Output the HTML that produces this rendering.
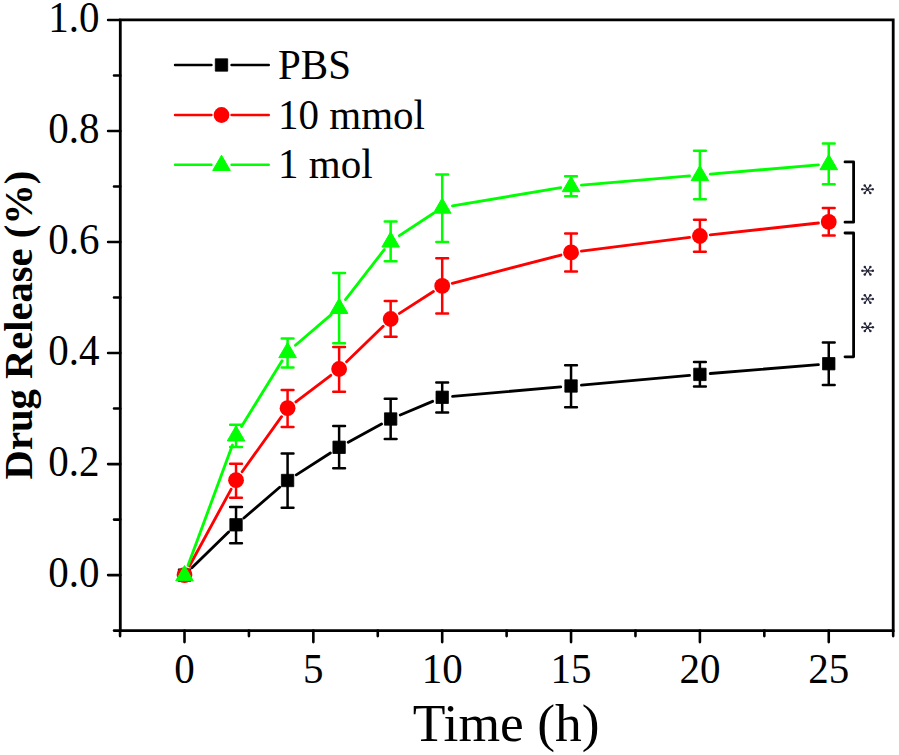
<!DOCTYPE html>
<html><head><meta charset="utf-8"><style>
html,body{margin:0;padding:0;background:#fff;}
svg{display:block;}
text{font-family:"Liberation Serif",serif;fill:#000;}
</style></head><body>
<svg width="899" height="755" viewBox="0 0 899 755">
<rect width="899" height="755" fill="#fff"/>
<path d="M120.3,630.6V19.9H893.2V630.6H120.3" stroke="#000" stroke-width="2.8" fill="none" stroke-linejoin="miter"/>
<path d="M108.1,575.10H120.3M108.1,464.08H120.3M108.1,353.06H120.3M108.1,242.04H120.3M108.1,131.02H120.3M108.1,20.00H120.3M114.0,630.61H120.3M114.0,519.59H120.3M114.0,408.57H120.3M114.0,297.55H120.3M114.0,186.53H120.3M114.0,75.51H120.3M184.50,630.6V642.1M313.35,630.6V642.1M442.20,630.6V642.1M571.05,630.6V642.1M699.90,630.6V642.1M828.75,630.6V642.1M120.08,630.6V636.1M248.93,630.6V636.1M377.77,630.6V636.1M506.62,630.6V636.1M635.47,630.6V636.1M764.33,630.6V636.1M893.17,630.6V636.1" stroke="#000" stroke-width="2.6" fill="none" stroke-linecap="round"/>
<text transform="translate(99.5,587.40) scale(1,1.07)" text-anchor="end" font-size="41">0.0</text>
<text transform="translate(99.5,476.38) scale(1,1.07)" text-anchor="end" font-size="41">0.2</text>
<text transform="translate(99.5,365.36) scale(1,1.07)" text-anchor="end" font-size="41">0.4</text>
<text transform="translate(99.5,254.34) scale(1,1.07)" text-anchor="end" font-size="41">0.6</text>
<text transform="translate(99.5,143.32) scale(1,1.07)" text-anchor="end" font-size="41">0.8</text>
<text transform="translate(99.5,32.30) scale(1,1.07)" text-anchor="end" font-size="41">1.0</text>
<text transform="translate(184.50,682.8) scale(1,1.05)" text-anchor="middle" font-size="41">0</text>
<text transform="translate(313.35,682.8) scale(1,1.05)" text-anchor="middle" font-size="41">5</text>
<text transform="translate(442.20,682.8) scale(1,1.05)" text-anchor="middle" font-size="41">10</text>
<text transform="translate(571.05,682.8) scale(1,1.05)" text-anchor="middle" font-size="41">15</text>
<text transform="translate(699.90,682.8) scale(1,1.05)" text-anchor="middle" font-size="41">20</text>
<text transform="translate(828.75,682.8) scale(1,1.05)" text-anchor="middle" font-size="41">25</text>
<text x="506.2" y="741" text-anchor="middle" font-size="53.5">Time (h)</text>
<text transform="translate(32.3,325) rotate(-90)" text-anchor="middle" font-size="40.6" font-weight="bold">Drug Release (%)</text>
<path d="M191.94,567.84L228.60,532.06M243.93,518.02L279.69,487.28M296.32,474.87L330.38,452.93M348.24,442.29L381.54,424.01M400.25,414.96L432.61,401.34M452.56,396.39L560.69,386.91M581.41,385.07L689.54,375.33M710.26,373.54L818.39,364.56" stroke="#000" stroke-width="2.85" fill="none" stroke-linecap="round"/>
<path d="M236.04,507.10V543.30M230.14,507.10H241.94M230.14,543.30H241.94M287.58,453.60V507.80M281.68,453.60H293.48M281.68,507.80H293.48M339.12,426.10V468.20M333.22,426.10H345.02M333.22,468.20H345.02M390.66,398.70V439.10M384.76,398.70H396.56M384.76,439.10H396.56M442.20,382.40V412.40M436.30,382.40H448.10M436.30,412.40H448.10M571.05,365.20V407.20M565.15,365.20H576.95M565.15,407.20H576.95M699.90,362.10V386.40M694.00,362.10H705.80M694.00,386.40H705.80M828.75,342.50V385.00M822.85,342.50H834.65M822.85,385.00H834.65" stroke="#000" stroke-width="2.5" fill="none" stroke-linecap="round"/>
<rect x="178.30" y="568.90" width="12.4" height="12.4" fill="#000" stroke="#000" stroke-width="0.8" stroke-linejoin="round"/>
<rect x="229.84" y="518.60" width="12.4" height="12.4" fill="#000" stroke="#000" stroke-width="0.8" stroke-linejoin="round"/>
<rect x="281.38" y="474.30" width="12.4" height="12.4" fill="#000" stroke="#000" stroke-width="0.8" stroke-linejoin="round"/>
<rect x="332.92" y="441.10" width="12.4" height="12.4" fill="#000" stroke="#000" stroke-width="0.8" stroke-linejoin="round"/>
<rect x="384.46" y="412.80" width="12.4" height="12.4" fill="#000" stroke="#000" stroke-width="0.8" stroke-linejoin="round"/>
<rect x="436.00" y="391.10" width="12.4" height="12.4" fill="#000" stroke="#000" stroke-width="0.8" stroke-linejoin="round"/>
<rect x="564.85" y="379.80" width="12.4" height="12.4" fill="#000" stroke="#000" stroke-width="0.8" stroke-linejoin="round"/>
<rect x="693.70" y="368.20" width="12.4" height="12.4" fill="#000" stroke="#000" stroke-width="0.8" stroke-linejoin="round"/>
<rect x="822.55" y="357.50" width="12.4" height="12.4" fill="#000" stroke="#000" stroke-width="0.8" stroke-linejoin="round"/>
<path d="M189.46,565.96L231.08,489.34M242.09,471.74L281.53,416.66M295.86,401.90L330.84,375.30M346.58,361.76L383.20,326.24M399.41,313.38L433.45,291.52M452.27,283.28L560.98,255.02M581.37,251.09L689.58,237.31M710.24,234.87L818.41,223.03" stroke="#f00" stroke-width="2.85" fill="none" stroke-linecap="round"/>
<path d="M236.04,463.70V497.70M230.14,463.70H241.94M230.14,497.70H241.94M287.58,390.10V427.10M281.68,390.10H293.48M281.68,427.10H293.48M339.12,347.10V391.70M333.22,347.10H345.02M333.22,391.70H345.02M390.66,301.00V336.80M384.76,301.00H396.56M384.76,336.80H396.56M442.20,258.30V313.40M436.30,258.30H448.10M436.30,313.40H448.10M571.05,233.40V271.40M565.15,233.40H576.95M565.15,271.40H576.95M699.90,219.80V251.80M694.00,219.80H705.80M694.00,251.80H705.80M828.75,207.90V235.40M822.85,207.90H834.65M822.85,235.40H834.65" stroke="#f00" stroke-width="2.5" fill="none" stroke-linecap="round"/>
<circle cx="184.50" cy="575.10" r="7.9" fill="#f00"/>
<circle cx="236.04" cy="480.20" r="7.9" fill="#f00"/>
<circle cx="287.58" cy="408.20" r="7.9" fill="#f00"/>
<circle cx="339.12" cy="369.00" r="7.9" fill="#f00"/>
<circle cx="390.66" cy="319.00" r="7.9" fill="#f00"/>
<circle cx="442.20" cy="285.90" r="7.9" fill="#f00"/>
<circle cx="571.05" cy="252.40" r="7.9" fill="#f00"/>
<circle cx="699.90" cy="236.00" r="7.9" fill="#f00"/>
<circle cx="828.75" cy="221.90" r="7.9" fill="#f00"/>
<path d="M188.10,565.34L232.44,445.06M241.51,426.46L282.11,360.84M295.47,345.23L331.23,314.57M345.50,299.58L384.28,249.62M399.35,235.68L433.51,213.22M452.46,205.79L560.79,187.71M581.41,185.12L689.54,175.88M710.26,174.12L818.39,164.88" stroke="#0f0" stroke-width="2.85" fill="none" stroke-linecap="round"/>
<path d="M236.04,424.80V447.00M230.14,424.80H241.94M230.14,447.00H241.94M287.58,338.50V367.60M281.68,338.50H293.48M281.68,367.60H293.48M339.12,273.00V343.30M333.22,273.00H345.02M333.22,343.30H345.02M390.66,221.50V261.30M384.76,221.50H396.56M384.76,261.30H396.56M442.20,174.50V242.10M436.30,174.50H448.10M436.30,242.10H448.10M571.05,176.20V196.20M565.15,176.20H576.95M565.15,196.20H576.95M699.90,150.80V199.20M694.00,150.80H705.80M694.00,199.20H705.80M828.75,143.60V184.30M822.85,143.60H834.65M822.85,184.30H834.65" stroke="#0f0" stroke-width="2.5" fill="none" stroke-linecap="round"/>
<path d="M184.50,565.54L193.30,580.78L175.70,580.78Z" fill="#0f0" stroke="#0f0" stroke-width="1" stroke-linejoin="round"/>
<path d="M236.04,425.74L244.84,440.98L227.24,440.98Z" fill="#0f0" stroke="#0f0" stroke-width="1" stroke-linejoin="round"/>
<path d="M287.58,342.44L296.38,357.68L278.78,357.68Z" fill="#0f0" stroke="#0f0" stroke-width="1" stroke-linejoin="round"/>
<path d="M339.12,298.24L347.92,313.48L330.32,313.48Z" fill="#0f0" stroke="#0f0" stroke-width="1" stroke-linejoin="round"/>
<path d="M390.66,231.84L399.46,247.08L381.86,247.08Z" fill="#0f0" stroke="#0f0" stroke-width="1" stroke-linejoin="round"/>
<path d="M442.20,197.94L451.00,213.18L433.40,213.18Z" fill="#0f0" stroke="#0f0" stroke-width="1" stroke-linejoin="round"/>
<path d="M571.05,176.44L579.85,191.68L562.25,191.68Z" fill="#0f0" stroke="#0f0" stroke-width="1" stroke-linejoin="round"/>
<path d="M699.90,165.44L708.70,180.68L691.10,180.68Z" fill="#0f0" stroke="#0f0" stroke-width="1" stroke-linejoin="round"/>
<path d="M828.75,154.44L837.55,169.68L819.95,169.68Z" fill="#0f0" stroke="#0f0" stroke-width="1" stroke-linejoin="round"/>
<path d="M845,161.9H853.6V222.2H845M845,233.0H853.6V356.8H845" stroke="#000" stroke-width="2.8" fill="none" stroke-linejoin="round" stroke-linecap="round"/>
<path d="M867.50,189.20L872.70,189.20M867.50,189.20L862.30,189.20M867.50,189.20L870.30,193.00M867.50,189.20L864.70,193.00M867.50,189.20L870.30,185.40M867.50,189.20L864.70,185.40" stroke="#26263a" stroke-width="1.15" stroke-linecap="round"/><circle cx="872.70" cy="189.20" r="1.25" fill="#26263a"/><circle cx="862.30" cy="189.20" r="1.25" fill="#26263a"/><circle cx="870.30" cy="193.00" r="1.25" fill="#26263a"/><circle cx="864.70" cy="193.00" r="1.25" fill="#26263a"/><circle cx="870.30" cy="185.40" r="1.25" fill="#26263a"/><circle cx="864.70" cy="185.40" r="1.25" fill="#26263a"/>
<path d="M867.60,270.80L872.80,270.80M867.60,270.80L862.40,270.80M867.60,270.80L870.40,274.60M867.60,270.80L864.80,274.60M867.60,270.80L870.40,267.00M867.60,270.80L864.80,267.00" stroke="#26263a" stroke-width="1.15" stroke-linecap="round"/><circle cx="872.80" cy="270.80" r="1.25" fill="#26263a"/><circle cx="862.40" cy="270.80" r="1.25" fill="#26263a"/><circle cx="870.40" cy="274.60" r="1.25" fill="#26263a"/><circle cx="864.80" cy="274.60" r="1.25" fill="#26263a"/><circle cx="870.40" cy="267.00" r="1.25" fill="#26263a"/><circle cx="864.80" cy="267.00" r="1.25" fill="#26263a"/>
<path d="M867.60,299.00L872.80,299.00M867.60,299.00L862.40,299.00M867.60,299.00L870.40,302.80M867.60,299.00L864.80,302.80M867.60,299.00L870.40,295.20M867.60,299.00L864.80,295.20" stroke="#26263a" stroke-width="1.15" stroke-linecap="round"/><circle cx="872.80" cy="299.00" r="1.25" fill="#26263a"/><circle cx="862.40" cy="299.00" r="1.25" fill="#26263a"/><circle cx="870.40" cy="302.80" r="1.25" fill="#26263a"/><circle cx="864.80" cy="302.80" r="1.25" fill="#26263a"/><circle cx="870.40" cy="295.20" r="1.25" fill="#26263a"/><circle cx="864.80" cy="295.20" r="1.25" fill="#26263a"/>
<path d="M867.60,327.30L872.80,327.30M867.60,327.30L862.40,327.30M867.60,327.30L870.40,331.10M867.60,327.30L864.80,331.10M867.60,327.30L870.40,323.50M867.60,327.30L864.80,323.50" stroke="#26263a" stroke-width="1.15" stroke-linecap="round"/><circle cx="872.80" cy="327.30" r="1.25" fill="#26263a"/><circle cx="862.40" cy="327.30" r="1.25" fill="#26263a"/><circle cx="870.40" cy="331.10" r="1.25" fill="#26263a"/><circle cx="864.80" cy="331.10" r="1.25" fill="#26263a"/><circle cx="870.40" cy="323.50" r="1.25" fill="#26263a"/><circle cx="864.80" cy="323.50" r="1.25" fill="#26263a"/>
<path d="M175,65.0H211.5M231.5,65.0H268.8" stroke="#000" stroke-width="2.4" stroke-linecap="round"/>
<rect x="215.30" y="58.80" width="12.4" height="12.4" fill="#000" stroke="#000" stroke-width="0.8" stroke-linejoin="round"/>
<text transform="translate(278,78.60) scale(1,1.02)" font-size="41">PBS</text>
<path d="M175,115.0H211.5M231.5,115.0H268.8" stroke="#f00" stroke-width="2.4" stroke-linecap="round"/>
<circle cx="221.50" cy="115.00" r="7.9" fill="#f00"/>
<text transform="translate(278,128.60) scale(1,1.02)" font-size="41">10 mmol</text>
<path d="M175,164.8H211.5M231.5,164.8H268.8" stroke="#0f0" stroke-width="2.4" stroke-linecap="round"/>
<path d="M221.50,155.24L230.30,170.48L212.70,170.48Z" fill="#0f0" stroke="#0f0" stroke-width="1" stroke-linejoin="round"/>
<text transform="translate(278,178.40) scale(1,1.02)" font-size="41">1 mol</text>
</svg>
</body></html>
